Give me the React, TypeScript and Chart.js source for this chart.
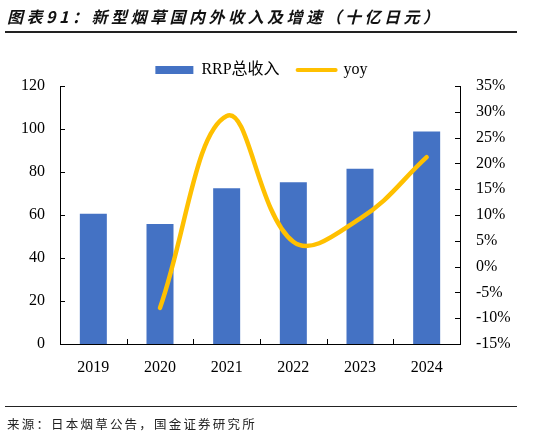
import { Chart, registerables } from 'chart.js';
import React, { useEffect, useRef } from 'react';

Chart.register(...registerables);

const years = ['2019', '2020', '2021', '2022', '2023', '2024'];
const rrpRevenue = [60.6, 55.8, 72.4, 75.2, 81.5, 98.8];
const rrpYoy = [null, -8.0, 29.2, 4.8, 9.3, 21.2];

const revenueTicks = { min: 0, max: 120, step: 20 };
const yoyTicks = { min: -15, max: 35, step: 5 };

const BLUE = '#4472C4';
const GOLD = '#FFC000';
const SERIF = '"Liberation Serif", "Times New Roman", "Noto Sans CJK SC", serif';
const CJK = '"Noto Sans CJK SC", sans-serif';

// short tick marks drawn inside the plot, like the excel original
const innerTicks = {
  id: 'innerTicks',
  afterDraw(chart: any) {
    const { ctx, chartArea, scales } = chart;
    const len = 5;
    ctx.save();
    ctx.strokeStyle = '#000';
    ctx.lineWidth = 1;
    ctx.beginPath();
    scales.y.ticks.forEach((_t: any, i: number) => {
      const py = Math.round(scales.y.getPixelForTick(i)) + 0.5;
      ctx.moveTo(chartArea.left, py);
      ctx.lineTo(chartArea.left + len, py);
    });
    scales.y1.ticks.forEach((_t: any, i: number) => {
      const py = Math.round(scales.y1.getPixelForTick(i)) + 0.5;
      ctx.moveTo(chartArea.right, py);
      ctx.lineTo(chartArea.right - len, py);
    });
    for (let i = 0; i <= years.length; i++) {
      const px = Math.round(scales.x.getPixelForValue(i - 0.5)) + 0.5;
      ctx.moveTo(px, chartArea.bottom);
      ctx.lineTo(px, chartArea.bottom - len);
    }
    ctx.stroke();
    ctx.restore();
  },
};

export default function App() {
  const canvasRef = useRef<HTMLCanvasElement>(null);

  useEffect(() => {
    if (!canvasRef.current) return;
    const tickFont = { family: SERIF, size: 16 };

    const chart = new Chart(canvasRef.current, {
      type: 'bar',
      data: {
        labels: years,
        datasets: [
          {
            type: 'bar',
            label: 'RRP总收入',
            data: rrpRevenue,
            backgroundColor: BLUE,
            yAxisID: 'y',
            categoryPercentage: 1,
            barPercentage: 0.405,
            order: 1,
          },
          {
            type: 'line',
            label: 'yoy',
            data: rrpYoy,
            borderColor: GOLD,
            borderWidth: 4.5,
            borderCapStyle: 'round',
            tension: 0.4,
            pointRadius: 0,
            yAxisID: 'y1',
            order: 0,
          } as any,
        ],
      },
      options: {
        responsive: false,
        animation: false,
        layout: { padding: { top: 44, left: 0, right: 14, bottom: 0 } },
        plugins: {
          tooltip: { enabled: false },
          legend: {
            position: 'top',
            maxHeight: 42,
            labels: {
              usePointStyle: true,
              pointStyleWidth: 38,
              boxHeight: 8,
              padding: 18,
              color: '#000',
              font: { family: SERIF, size: 16 },
              generateLabels: (c: any) =>
                c.data.datasets.map((ds: any, i: number) => ({
                  text: ds.label,
                  datasetIndex: i,
                  hidden: false,
                  fillStyle: ds.type === 'bar' ? BLUE : 'transparent',
                  strokeStyle: ds.type === 'bar' ? BLUE : GOLD,
                  lineWidth: ds.type === 'bar' ? 0 : 4,
                  lineCap: 'round',
                  pointStyle: ds.type === 'bar' ? 'rect' : 'line',
                  fontColor: '#000',
                })),
            },
          },
        },
        scales: {
          x: {
            grid: { display: false, drawTicks: false },
            border: { display: true, color: '#000', width: 1 },
            ticks: { color: '#000', font: tickFont, padding: 14 },
            afterFit: (s: any) => {
              s.height = 93;
            },
          },
          y: {
            position: 'left',
            min: revenueTicks.min,
            max: revenueTicks.max,
            grid: { display: false, drawTicks: false },
            border: { display: true, color: '#000', width: 1 },
            ticks: { stepSize: revenueTicks.step, color: '#000', font: tickFont, padding: 15 },
            afterFit: (s: any) => {
              s.width = 60;
            },
          },
          y1: {
            position: 'right',
            min: yoyTicks.min,
            max: yoyTicks.max,
            grid: { display: false, drawTicks: false },
            border: { display: true, color: '#000', width: 1 },
            ticks: {
              stepSize: yoyTicks.step,
              color: '#000',
              font: tickFont,
              padding: 16,
              callback: (v: any) => v + '%',
            },
            afterFit: (s: any) => {
              s.width = 63;
            },
          },
        },
      },
      plugins: [innerTicks],
    });

    return () => {
      chart.destroy();
    };
  }, []);

  return (
    <div style={{ position: 'absolute', left: 0, top: 0, width: 537, height: 437, background: '#fff' }}>
      <canvas ref={canvasRef} width={537} height={437} style={{ position: 'absolute', left: 0, top: 0 }} />
      <div
        style={{
          position: 'absolute',
          left: 7,
          top: 5,
          fontFamily: CJK,
          fontSize: 16,
          fontWeight: 'bold',
          fontStyle: 'italic',
          letterSpacing: 3.5,
          color: '#111',
          whiteSpace: 'nowrap',
          lineHeight: '22px',
        }}
      >
        图表91：新型烟草国内外收入及增速（十亿日元）
      </div>
      <div style={{ position: 'absolute', left: 5, top: 31, width: 512, height: 2, background: '#222' }} />
      <div style={{ position: 'absolute', left: 5, top: 406, width: 512, height: 1, background: '#222' }} />
      <div
        style={{
          position: 'absolute',
          left: 7,
          top: 415,
          fontFamily: CJK,
          fontSize: 12.5,
          letterSpacing: 2.2,
          color: '#222',
          whiteSpace: 'nowrap',
          lineHeight: '18px',
        }}
      >
        来源：日本烟草公告，国金证券研究所
      </div>
    </div>
  );
}
